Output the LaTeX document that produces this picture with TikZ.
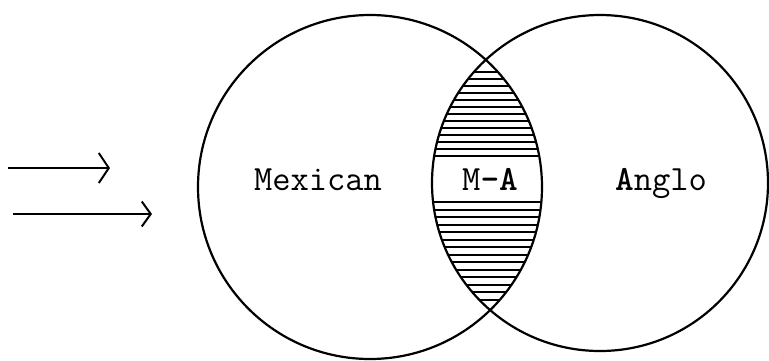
\documentclass[tikz,border=0pt]{standalone}
\usepackage{fontspec}
\usepackage{tikz}
\usetikzlibrary{arrows.meta}
\tikzstyle{group} = [line width=2.2pt]
\tikzstyle{hatch} = [line width=2pt]
\tikzstyle{label} = [font=\ttfamily\fontsize{35.5}{38}\selectfont, inner sep=0pt, anchor=base]
\tikzstyle{arrow} = [line width=2pt, -{Straight Barb[length=10pt, width=30pt, line width=2pt]}]

\begin{document}
\begin{tikzpicture}[x=1pt, y=-1pt]
    \useasboundingbox (0,0) rectangle (769,360);
    % Define coordinates
    \coordinate (mexc) at (370,187);
    \coordinate (angc) at (600,183);
    \coordinate (in1) at (8,168);
    \coordinate (out1) at (110,168);
    \coordinate (in2) at (13,214);
    \coordinate (out2) at (152,214);

    % Hatch the overlap
    \begin{scope}
        \clip (mexc) circle (172);
        \clip (angc) circle (168);
        \foreach \y in {72,79,...,157} \draw [hatch] (420,\y) -- (560,\y);
        \foreach \y in {202,209.5,...,305} \draw [hatch] (420,\y) -- (560,\y);
    \end{scope}

    % Draw circles
    \draw [group] (mexc) circle (172);
    \draw [group] (angc) circle (168);

    % Labels
    \node (mexican) [label] at (318,190) {Mexican};
    \node (overlap) [label] at (490,190) {M\textbf{-A}};
    \node (anglo) [label] at (661,190) {\textbf{A}nglo};

    % Draw arrows
    \draw [arrow] (in1) -- (out1);
    \draw [arrow, -{Straight Barb[length=9pt, width=25pt, line width=2pt]}] (in2) -- (out2);
\end{tikzpicture}
\end{document}
